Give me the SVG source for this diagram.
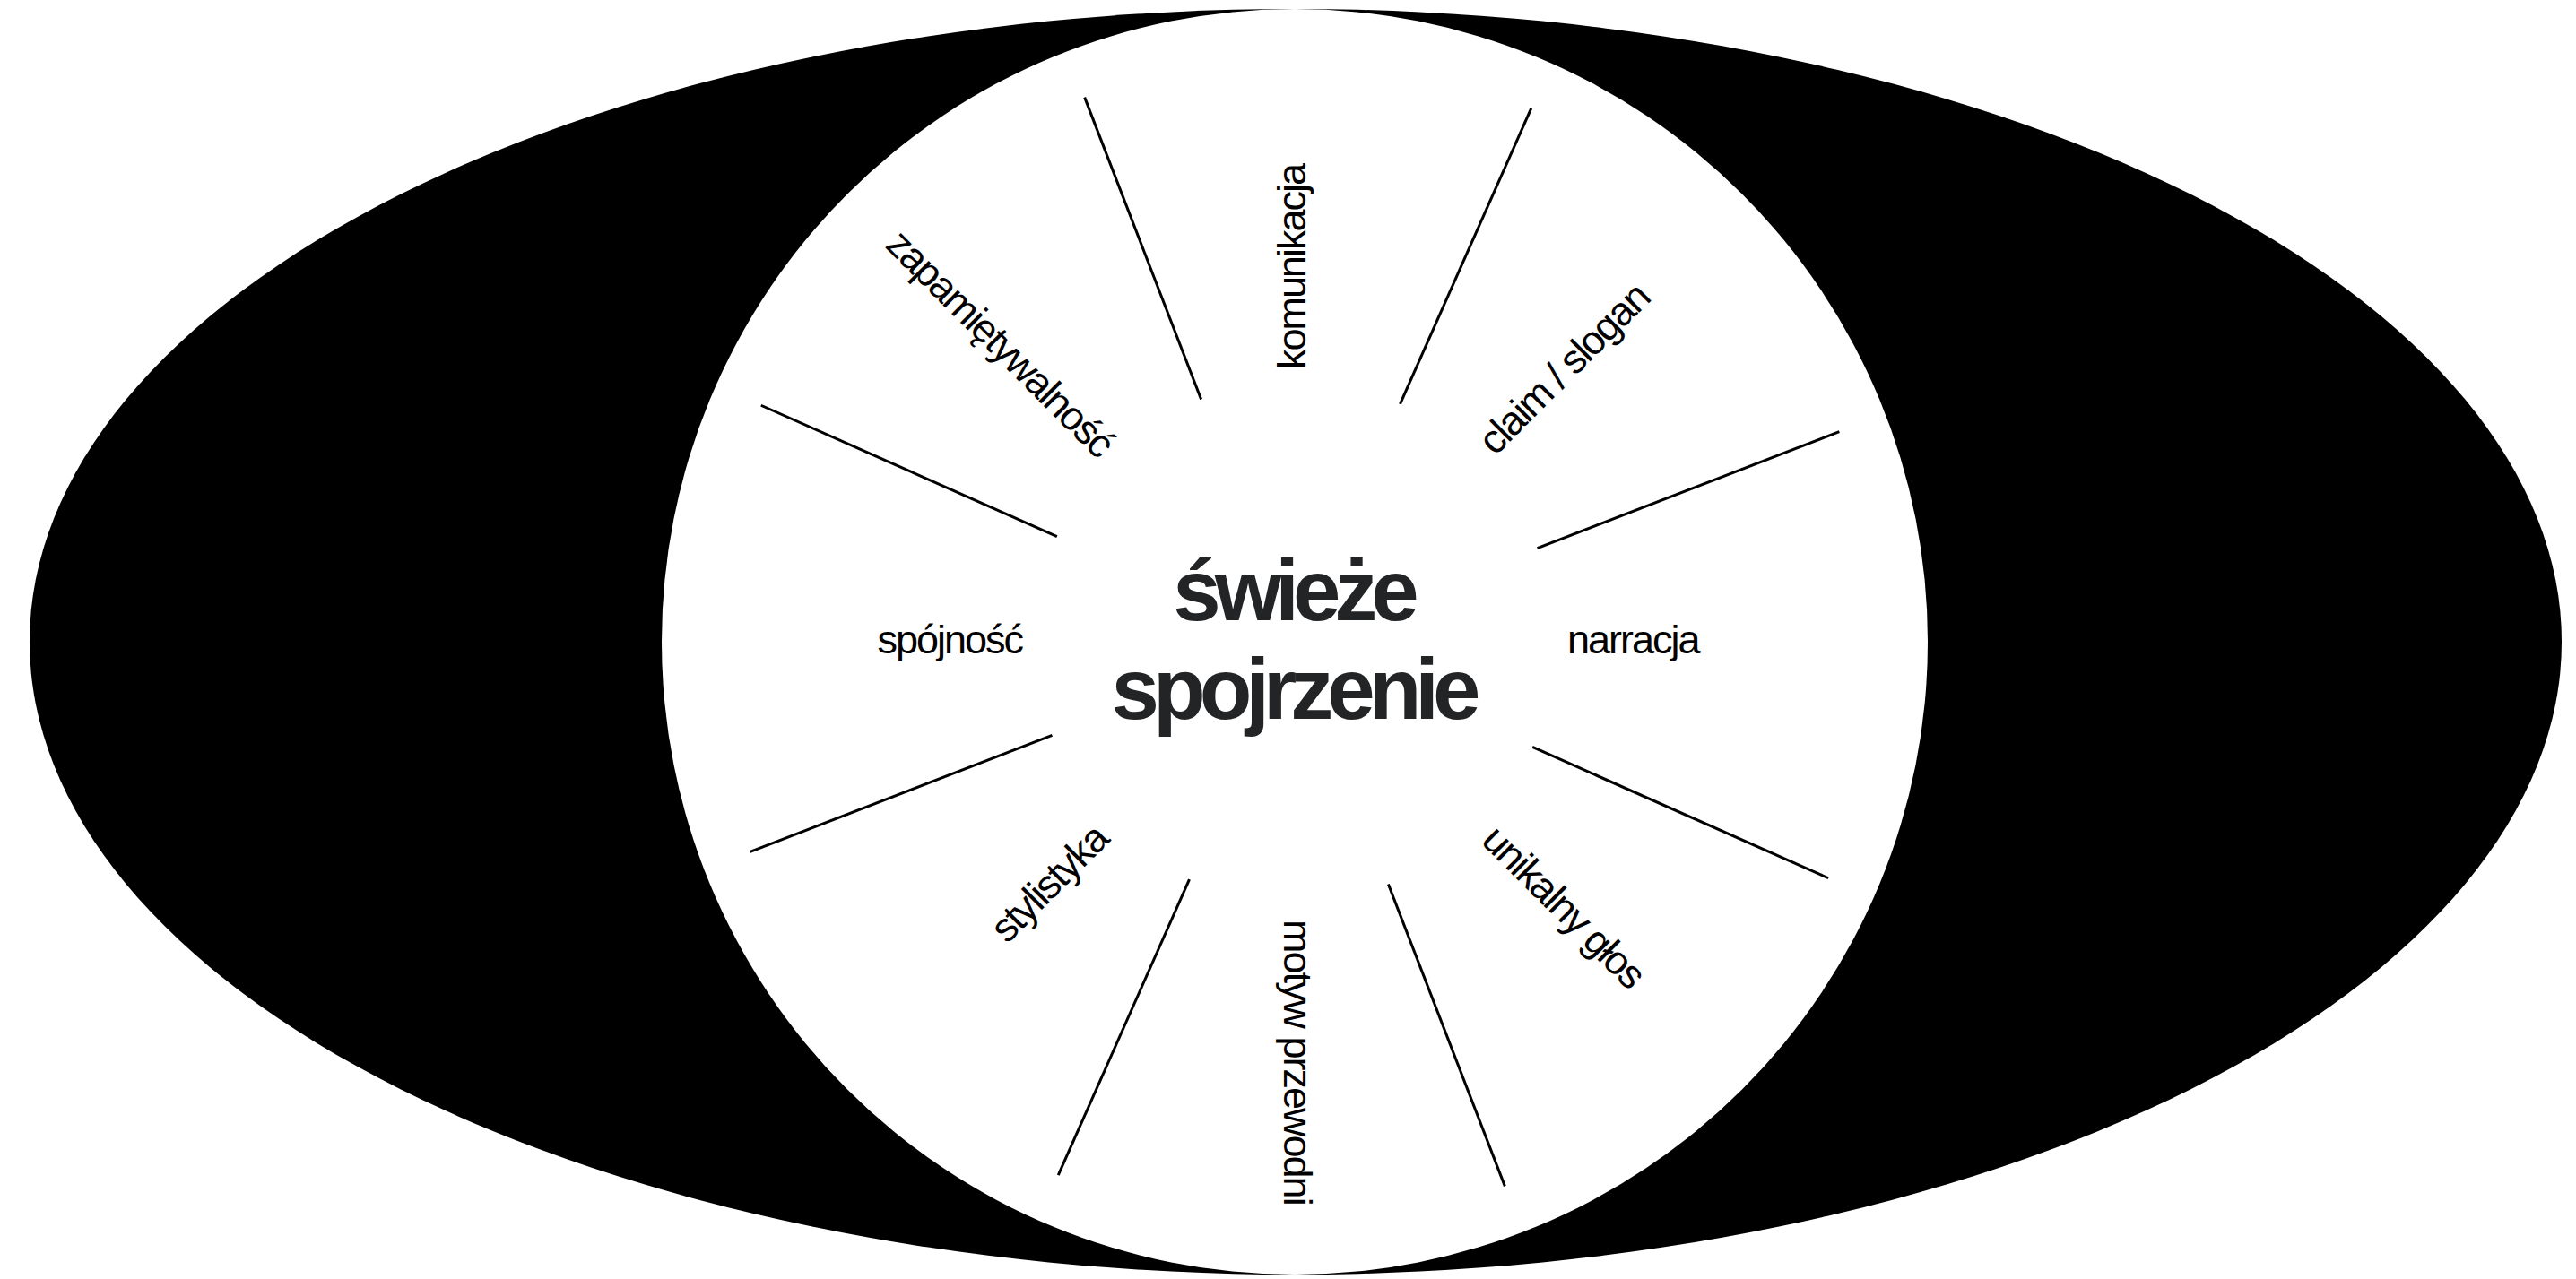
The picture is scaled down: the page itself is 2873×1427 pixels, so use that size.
<svg xmlns="http://www.w3.org/2000/svg" width="2873" height="1427" viewBox="0 0 2873 1427">
<style>
.spoke{stroke:#000;stroke-width:3;fill:none}
.lbl{font-family:"Liberation Sans",Arial,sans-serif;font-size:45px;letter-spacing:-2px;fill:#000}
.title{font-family:"Liberation Sans",Arial,sans-serif;font-size:96px;font-weight:bold;letter-spacing:-7px;fill:#222426;text-anchor:middle}
</style>
<rect width="2873" height="1427" fill="#fff"/>
<g id="background">
<ellipse cx="1445" cy="716" rx="1412" ry="706" fill="#000"/>
<circle cx="1444" cy="716" r="706" fill="#fff"/>
</g>
<g id="connectors" transform="translate(1444,716)">
<line class="spoke" x1="0" y1="-290" x2="0" y2="-651" transform="rotate(23.9)"/>
<line class="spoke" x1="0" y1="-290" x2="0" y2="-651" transform="rotate(68.9)"/>
<line class="spoke" x1="0" y1="-290" x2="0" y2="-651" transform="rotate(113.9)"/>
<line class="spoke" x1="0" y1="-290" x2="0" y2="-651" transform="rotate(158.9)"/>
<line class="spoke" x1="0" y1="-290" x2="0" y2="-651" transform="rotate(203.9)"/>
<line class="spoke" x1="0" y1="-290" x2="0" y2="-651" transform="rotate(248.9)"/>
<line class="spoke" x1="0" y1="-290" x2="0" y2="-651" transform="rotate(293.9)"/>
<line class="spoke" x1="0" y1="-290" x2="0" y2="-651" transform="rotate(338.9)"/>
</g>
<g id="center">
<text class="title" x="1442" y="692">świeże</text>
<text class="title" x="1442" y="802">spojrzenie</text>
</g>
<g id="komunikacja" transform="translate(1444,716) rotate(-90) translate(304,12)">
<text class="lbl" x="0" y="0">komunikacja</text>
</g>
<g id="claim-slogan" transform="translate(1444,716) rotate(-45) translate(304,12)">
<text class="lbl" x="0" y="0">claim / slogan</text>
</g>
<g id="narracja" transform="translate(1444,716) translate(304,13)">
<text class="lbl" x="0" y="0">narracja</text>
</g>
<g id="unikalny-glos" transform="translate(1444,716) rotate(45) translate(304,12)">
<text class="lbl" x="0" y="0">unikalny głos</text>
</g>
<g id="motyw-przewodni" transform="translate(1444,716) rotate(90) translate(310,12)">
<text class="lbl" x="0" y="0">motyw przewodni</text>
</g>
<g id="stylistyka" transform="translate(1444,716) rotate(-45) translate(-303,12)">
<text class="lbl" x="0" y="0" text-anchor="end">stylistyka</text>
</g>
<g id="spojnosc" transform="translate(1444,716) translate(-304,13)">
<text class="lbl" x="0" y="0" text-anchor="end">spójność</text>
</g>
<g id="zapamietywalnosc" transform="translate(1444,716) rotate(45) translate(-300,12)">
<text class="lbl" x="0" y="0" text-anchor="end">zapamiętywalność</text>
</g>
</svg>
